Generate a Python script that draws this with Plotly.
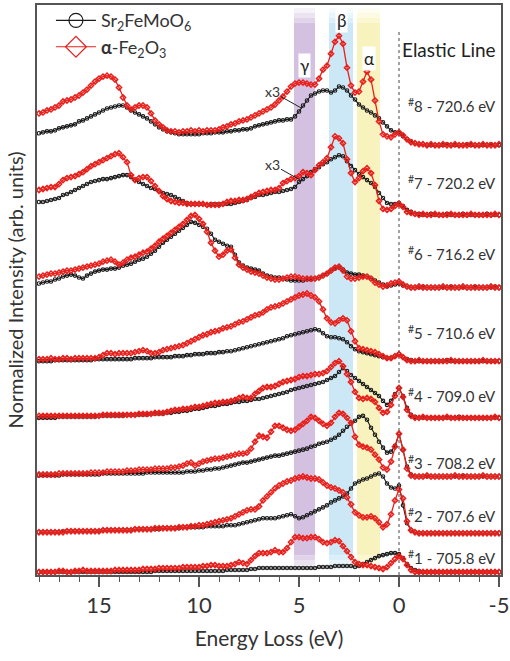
import plotly.graph_objects as go

# Energy-loss sampling grid (eV), 18.0 -> -5.0 in 0.2 eV steps
energy = [round(18.0 - 0.2 * i, 1) for i in range(116)]

# Spectra (heights above each spectrum's own baseline, arb. units)
sfmo_1 = [0,0,0,0,0,0,0,0,0,0, 0,0,0,0,0,0,0,0,0,0, 0,0,0,0,0,0,0,0,0,1, 1,1,1,1,1,1,1,1,1,1,
          1,1,1,1,1,1,1,2,2,2, 2,2,2,3,3,4,4,4,4,4, 4,4,4,4,4,4,4,4,4,4, 5,5,5,5,6,6,6,6,6,5,
          6,8,10,12,14,16,17,18,19,19, 18,14,8,4,2,1,0,0,0,0, 0,0,0,0,0,0,0,0,0,0, 0,0,0,0,0,0]
fe2o3_1 = [0,0,0,0,0,1,1,0,0,1, 1,2,1,1,1,1,1,1,1,2, 2,2,2,2,2,2,3,3,3,3, 4,4,4,4,4,4,5,5,5,5,
           5,6,6,7,7,6,6,6,7,8, 10,9,8,12,16,19,19,19,20,22, 20,20,24,30,35,35,34,34,35,35,
           33,30,29,30,32,31,26,21,15,10, 8,7,7,6,5,4,3,5,9,13, 16,13,7,2,0,0,0,0,0,0,
           0,0,0,0,0,0,0,0,0,0, 0,0,0,0,0,0]
sfmo_2 = [1,1,1,1,1,1,2,2,2,2, 2,2,2,2,2,2,3,3,3,3, 3,3,3,3,4,4,4,4,4,4, 4,5,5,5,5,5,6,6,6,6,
          6,6,7,7,7,7,7,8,8,8, 9,10,11,12,13,14,15,15,15,15, 16,17,18,19,17,15,16,18,20,22,
          24,26,28,31,33,35,37,40,45,50, 52,54,55,57,59,60,57,50,46,45, 48,28,10,3,1,0,0,0,0,0,
          0,0,0,0,0,0,0,0,0,0, 0,0,0,0,0,0]
fe2o3_2 = [1,1,1,1,1,1,1,2,2,2, 2,2,2,2,2,2,3,3,3,3, 3,3,3,3,4,4,4,4,4,5, 5,5,5,5,5,6,6,6,7,7,
           8,8,9,10,11,12,13,14,15,17, 19,21,23,24,24,27,33,37,41,45, 48,50,52,53,55,56,57,56,55,55,
           54,51,48,46,45,43,41,36,29,21, 18,16,16,17,15,11,6,9,19,33, 44,35,12,3,1,0,0,0,0,0,
           0,0,0,0,0,0,0,0,0,0, 0,0,0,0,0,0]
sfmo_3 = [1,1,1,1,1,1,2,2,2,2, 2,2,2,2,2,2,3,3,3,3, 3,3,3,3,3,3,3,4,4,4, 4,4,4,4,4,4,4,5,5,5,
          6,6,7,7,8,8,9,10,11,12, 13,14,14,15,16,17,18,19,20,21, 21,22,23,24,25,26,27,28,30,31,
          33,34,35,37,39,42,46,50,53,56, 60,61,57,49,42,35,29,24,25,31, 43,27,10,2,0,0,0,0,0,0,
          0,0,0,0,0,0,1,0,0,0, 0,0,0,0,0,0]
fe2o3_3 = [2,2,2,2,2,3,3,3,3,3, 3,3,3,4,4,4,4,5,5,5, 5,5,6,6,6,7,7,7,7,8, 8,8,8,9,9,10,11,13,14,11,
           13,15,16,17,18,18,19,20,21,22, 23,23,24,28,35,41,40,39,45,51, 51,49,47,46,47,50,53,56,60,59,
           56,53,51,54,60,64,63,59,54,40, 32,30,29,27,22,17,9,7,15,30, 43,27,8,1,0,0,0,1,0,0,
           0,0,0,0,1,0,0,0,0,0, 0,1,0,0,0,0]
sfmo_4 = [0,0,0,0,0,1,1,1,1,1, 1,1,1,1,1,2,2,2,2,2, 2,2,3,3,3,3,3,3,4,4, 4,4,5,5,6,6,7,7,8,9,
          9,10,11,12,12,13,14,14,15,16, 16,17,17,18,19,19,20,21,22,23, 24,25,26,28,29,30,31,32,33,34,
          35,36,38,40,42,46,50,47,43,40, 37,34,31,28,25,22,17,13,17,24, 30,22,10,3,1,0,0,0,0,0,
          0,0,0,0,0,1,0,0,0,0, 0,0,0,0,0,0]
fe2o3_4 = [2,2,2,2,2,2,2,2,2,2, 2,2,2,2,2,2,3,3,3,3, 3,3,3,3,3,4,4,4,4,5, 5,5,6,7,8,8,9,9,10,11,
           11,12,13,14,15,15,16,16,17,18, 20,21,20,20,24,27,30,31,31,32, 34,36,37,38,39,41,42,42,43,44,
           44,45,47,51,55,57,52,44,36,26, 20,19,20,19,16,10,5,6,13,22, 30,21,8,2,0,0,1,0,0,0,
           0,0,1,0,0,0,0,0,0,0, 0,0,0,0,1,0]
sfmo_5 = [0,0,0,0,1,1,1,1,1,1, 1,1,1,1,2,2,2,2,2,2, 2,2,2,2,3,3,3,3,3,4, 4,4,4,4,5,5,5,6,6,7,
          7,7,8,8,8,9,9,10,10,11, 12,13,14,15,16,17,18,19,20,21, 22,23,25,26,27,28,29,30,31,32,
          31,28,25,24,24,23,22,19,15,12, 10,9,8,7,6,5,4,3,3,5, 7,4,2,1,0,0,0,0,0,0,
          0,0,1,0,0,0,0,0,0,0, 0,0,0,0,0,0]
fe2o3_5 = [2,2,2,3,2,2,3,3,2,3, 3,3,3,3,3,4,6,8,8,7, 8,8,8,8,9,10,11,10,8,8, 9,11,12,13,14,15,16,18,20,22,
           24,26,27,29,30,31,33,34,35,37, 39,40,42,44,46,47,49,52,54,55, 56,58,60,62,64,66,67,68,66,64,
           60,52,43,39,38,41,43,41,30,20, 13,12,11,10,9,7,5,3,3,5, 7,4,1,0,0,1,0,0,0,0,
           0,0,0,1,0,0,0,0,0,0, 0,1,0,0,0,0]
sfmo_6 = [4,5,6,6,8,9,11,12,13,12, 10,9,12,14,16,17,18,18,19,19, 20,22,23,24,26,28,29,31,34,37,
          41,45,48,51,54,57,60,63,66,65, 63,61,59,54,48,46,44,42,41,33, 25,22,20,19,18,17,14,12,11,10,
          10,9,8,7,7,7,7,8,8,9, 10,12,14,17,19,20,18,15,14,13, 13,12,11,9,7,5,3,1,2,3,
          4,2,1,0,0,0,1,0,0,0, 0,0,0,1,0,0,0,0,0,1, 0,0,0,0,1,0]
fe2o3_6 = [11,12,13,14,14,15,16,17,17,18, 19,20,21,22,23,24,26,27,28,26, 23,25,28,30,31,33,35,36,39,42,
           46,49,52,55,58,61,64,68,72,73, 69,64,56,45,37,31,33,37,38,30, 23,20,18,16,15,14,12,10,9,8,
           8,9,10,11,11,10,9,9,9,9, 10,12,14,17,20,21,17,11,9,9, 10,11,11,9,5,3,1,2,4,5,
           6,3,1,0,0,1,0,0,0,0, 0,1,0,0,0,0,1,0,0,0, 0,0,0,1,0,0]
sfmo_7 = [13,13,14,15,16,17,20,21,23,25, 27,29,31,33,34,35,36,36,37,38, 39,40,40,38,35,33,31,29,27,26,
          24,22,21,20,18,16,14,12,11,11, 11,11,10,11,11,11,11,11,11,12, 13,14,15,17,18,20,20,21,22,23,
          23,24,25,26,28,33,36,39,43,46, 48,51,53,56,58,60,59,54,49,45, 41,38,35,32,28,22,17,12,11,11,
          12,9,5,3,1,1,0,0,1,0, 0,0,1,0,0,0,1,0,0,0, 0,0,1,0,0,0]
fe2o3_7 = [25,26,27,28,28,31,35,37,38,39, 41,43,46,49,51,53,55,57,59,61, 62,58,53,40,35,37,38,38,34,29,
           24,19,16,14,13,12,12,11,11,11, 11,11,10,10,10,10,11,13,14,14, 15,15,16,18,20,22,23,24,25,25,
           27,32,34,36,37,39,43,42,40,45, 50,53,57,68,79,77,72,56,42,33, 37,44,47,42,30,14,6,5,6,9,
           11,8,3,2,1,0,1,0,0,1, 0,0,0,1,0,0,0,0,1,0, 0,0,0,0,1,0]
sfmo_8 = [12,13,14,14,15,17,18,19,20,21, 24,25,27,29,31,33,35,37,38,39, 40,40,38,35,33,31,29,27,24,21,
          18,16,14,13,12,11,11,11,11,11, 11,12,12,12,13,13,13,14,14,15, 15,16,16,17,19,20,21,22,23,24,
          25,25,26,26,29,34,40,45,50,52, 54,55,55,53,55,59,58,55,50,46, 41,38,35,33,30,27,23,19,15,13,
          12,9,6,4,2,1,1,0,0,0, 0,0,1,0,0,0,0,1,0,0, 0,0,0,1,0,0]
fe2o3_8 = [32,33,35,36,38,40,44,45,46,48, 50,53,56,60,64,67,69,70,69,66, 58,48,40,36,38,40,40,38,32,25,
           21,18,15,14,14,13,14,14,15,14, 15,14,15,15,15,16,18,19,21,22, 24,25,26,28,30,32,34,36,38,41,
           45,49,54,59,62,63,63,62,61,61, 67,76,80,92,104,110,102,78,60,53, 54,64,74,66,45,24,11,9,8,11,
           13,10,6,3,2,1,1,0,1,0, 0,1,0,0,1,0,0,0,1,0, 0,1,0,0,0,1]

sfmo_all = [sfmo_1, sfmo_2, sfmo_3, sfmo_4, sfmo_5, sfmo_6, sfmo_7, sfmo_8]
fe2o3_all = [fe2o3_1, fe2o3_2, fe2o3_3, fe2o3_4, fe2o3_5, fe2o3_6, fe2o3_7, fe2o3_8]

# vertical offsets of the stacked spectra (#1 .. #8)
offsets = [3, 42, 99, 158, 215, 289, 362, 432]
spec_ids = ["1", "2", "3", "4", "5", "6", "7", "8"]
excitation = ["705.8", "707.6", "708.2", "709.0", "710.6", "716.2", "720.2", "720.6"]
label_dy = [15, 18, 14, 22, 29, 34, 33, 40]

# feature bands (eV)
band_names = ["γ", "β", "α"]
band_lo = [4.2, 2.3, 0.95]
band_hi = [5.25, 3.5, 2.1]
band_colors = ["rgb(212,192,224)", "rgb(204,232,246)", "rgb(248,243,190)"]
band_label_y = [512, 557, 519]

BLACK = "#1a1a1a"
RED = "#e8201c"
FONT = "Lato"
TXT = "#333333"

for s in sfmo_all + fe2o3_all:
    assert len(s) == len(energy), len(s)

fig = go.Figure()

# shaded bands with soft ends
shapes = []
for lo, hi, col in zip(band_lo, band_hi, band_colors):
    shapes.append(dict(type="rect", xref="x", yref="y", x0=hi, x1=lo, y0=20, y1=555,
                       fillcolor=col, line=dict(width=0), layer="below"))
    for (a, b, op) in [(555, 560, 0.7), (560, 565, 0.45), (565, 570, 0.2),
                       (15, 20, 0.7), (10, 15, 0.45), (5, 10, 0.2)]:
        shapes.append(dict(type="rect", xref="x", yref="y", x0=hi, x1=lo, y0=a, y1=b,
                           fillcolor=col, opacity=op, line=dict(width=0), layer="below"))
# elastic line
shapes.append(dict(type="line", xref="x", yref="y", x0=0, x1=0, y0=0, y1=547,
                   line=dict(color="#444", width=1, dash="dot"), layer="below"))

for k in range(8):
    fig.add_trace(go.Scatter(
        x=energy, y=[v + offsets[k] for v in sfmo_all[k]], mode="lines+markers",
        line=dict(color=BLACK, width=1.1),
        marker=dict(symbol="circle-open", size=3.5, color=BLACK, line=dict(width=1.1)),
        showlegend=False, hoverinfo="skip"))
for k in range(8):
    fig.add_trace(go.Scatter(
        x=energy, y=[v + offsets[k] for v in fe2o3_all[k]], mode="lines+markers",
        line=dict(color=RED, width=1.3),
        marker=dict(symbol="diamond-open", size=4, color=RED, line=dict(width=1.5)),
        showlegend=False, hoverinfo="skip"))

# legend entries
fig.add_trace(go.Scatter(x=[None], y=[None], mode="lines+markers", name="Sr<sub>2</sub>FeMoO<sub>6</sub>",
                         line=dict(color=BLACK, width=1.2),
                         marker=dict(symbol="circle-open", size=14, color=BLACK, line=dict(width=1.2))))
fig.add_trace(go.Scatter(x=[None], y=[None], mode="lines+markers", name="<b>α</b>-Fe<sub>2</sub>O<sub>3</sub>",
                         line=dict(color=RED, width=1.2),
                         marker=dict(symbol="diamond-open", size=16, color=RED, line=dict(width=1.2))))

annotations = []
for k in range(8):
    annotations.append(dict(x=-4.95, y=offsets[k] + label_dy[k], xref="x", yref="y",
                            text="<sup>#</sup>" + spec_ids[k] + " - " + excitation[k] + " eV",
                            showarrow=False, xanchor="right", yanchor="middle",
                            font=dict(family=FONT, size=15, color=TXT)))
for name, lo, hi, ly in zip(band_names, band_lo, band_hi, band_label_y):
    annotations.append(dict(x=(lo + hi) / 2, y=ly, xref="x", yref="y", text=name,
                            showarrow=False, bgcolor="white", borderpad=1,
                            font=dict(family=FONT, size=17, color="#222")))
annotations.append(dict(x=-4.95, y=528, xref="x", yref="y", text="Elastic Line", showarrow=False,
                        xanchor="right", font=dict(family=FONT, size=19, color="#222")))
# x3 markers for spectra #7 and #8
for k, ty in [(7, 486), (6, 413)]:
    annotations.append(dict(x=4.85, y=ty - 17, xref="x", yref="y", ax=6.35, ay=ty,
                            axref="x", ayref="y", text="x3", showarrow=True, arrowhead=0,
                            arrowwidth=1, arrowcolor="#222",
                            font=dict(family=FONT, size=14, color=TXT)))

fig.update_layout(
    width=510, height=661,
    margin=dict(l=37, r=9, t=2, b=86),
    paper_bgcolor="white", plot_bgcolor="white",
    font=dict(family=FONT, color=TXT),
    shapes=shapes, annotations=annotations,
    legend=dict(x=0.03, y=1.005, xanchor="left", yanchor="top", bgcolor="rgba(0,0,0,0)",
                font=dict(family=FONT, size=18, color=TXT), itemwidth=40),
    xaxis=dict(range=[18.1, -5.1], tickmode="array", tickvals=[15, 10, 5, 0, -5],
               ticktext=["15", "10", "5", "0", "-5"], ticks="outside", ticklen=10, tickwidth=1.5,
               tickcolor="#555", showline=True, linecolor="#555", linewidth=1.5, mirror=True,
               showgrid=False, zeroline=False, automargin=False,
               minor=dict(tickmode="linear", tick0=0, dtick=1, ticks="outside", ticklen=5,
                          tickwidth=1.2, tickcolor="#555"),
               tickfont=dict(family=FONT, size=22, color=TXT),
               title=dict(text="Energy Loss (eV)", font=dict(family=FONT, size=21, color=TXT), standoff=14)),
    yaxis=dict(range=[0, 573], showticklabels=False, ticks="", showline=True, linecolor="#555",
               linewidth=1.5, mirror=True, showgrid=False, zeroline=False, automargin=False,
               title=dict(text="Normalized Intensity (arb. units)",
                          font=dict(family=FONT, size=20, color=TXT), standoff=6)),
)

fig.write_html("out.html", config={"displayModeBar": False},
               post_script="document.body.style.margin='0px';document.body.style.overflow='hidden';")
